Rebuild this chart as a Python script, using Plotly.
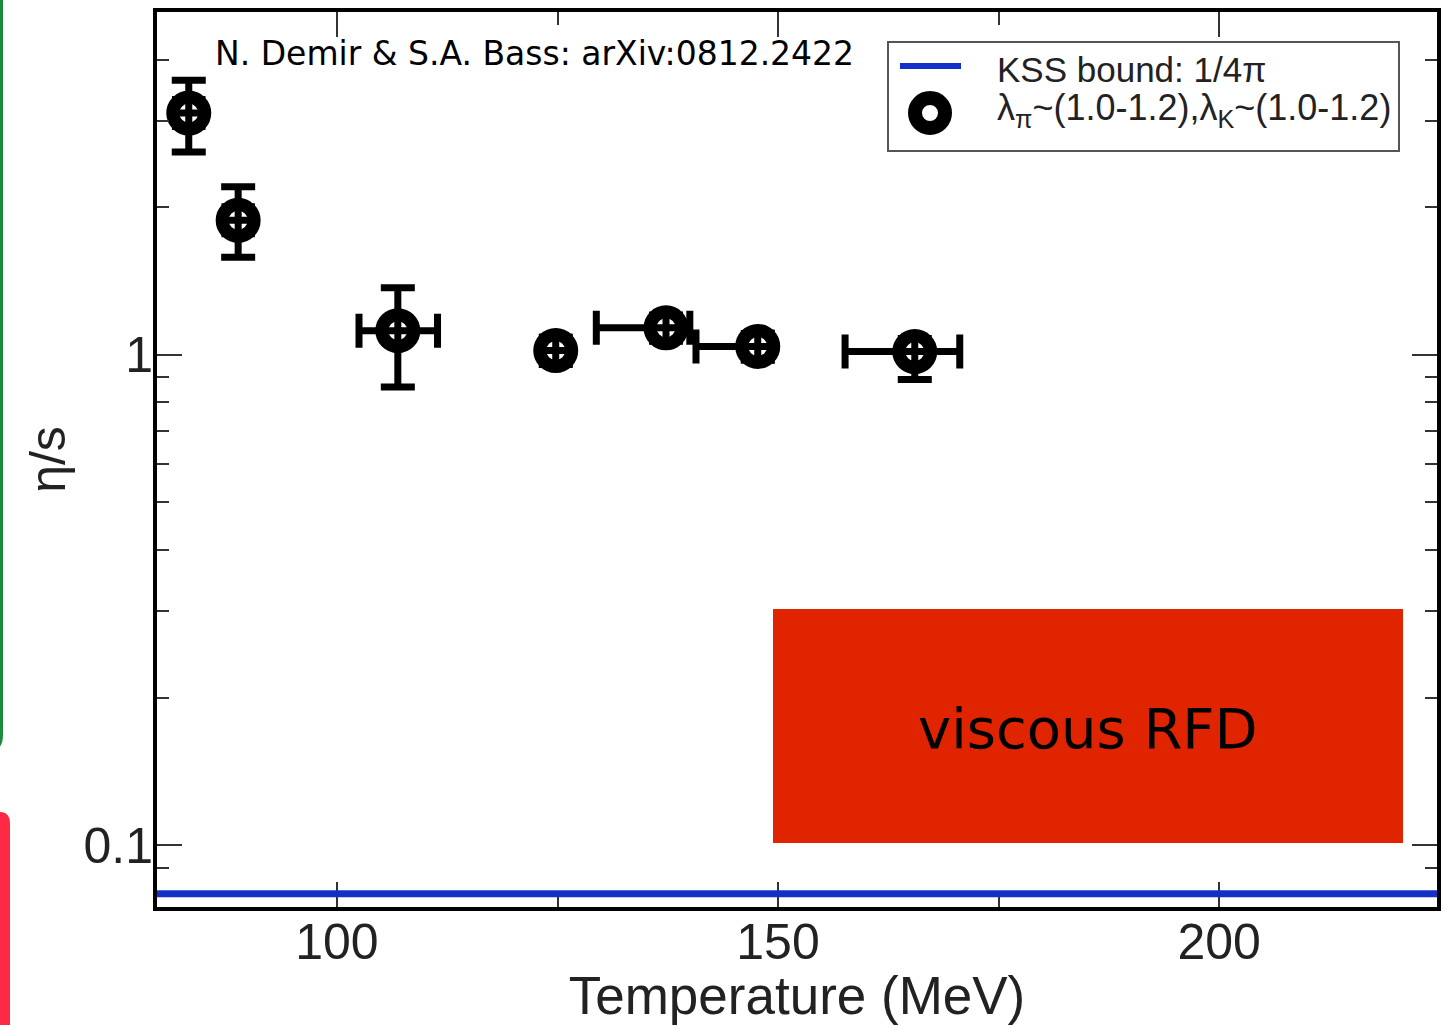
import numpy as np
import plotly.graph_objects as go

# eta/s versus temperature (N. Demir & S.A. Bass, arXiv:0812.2422)
temperature = [83.2, 88.8, 106.9, 124.8, 137.3, 147.7, 165.5]
eta_over_s = [3.11, 1.88, 1.12, 1.02, 1.135, 1.04, 1.015]
eta_err_plus = [0.52, 0.32, 0.25, 0.065, 0.07, 0.065, 0.065]
eta_err_minus = [0.52, 0.30, 0.26, 0.065, 0.07, 0.065, 0.125]
temp_err_plus = [1.5, 1.5, 4.5, 1.5, 2.7, 1.5, 5.1]
temp_err_minus = [1.5, 1.5, 4.4, 1.5, 7.9, 7.0, 7.9]

kss_bound = 1.0 / (4.0 * np.pi)

x_ticks = [100, 150, 200]
x_minor_ticks = [125, 175]
y_ticks = [0.1, 1]
y_tick_text = ["0.1", "1"]
y_minor_ticks = [0.08, 0.09, 0.2, 0.3, 0.4, 0.5, 0.6, 0.7, 0.8, 0.9, 2, 3, 4, 5]

x_range = [79.6, 224.7]
y_range = [np.log10(0.0748), np.log10(5.0)]

W, H = 1444, 1025
ML, MR, MT, MB = 157, 7, 12, 118
PW, PH = W - ML - MR, H - MT - MB


def px(X):
    """page pixel x -> paper x"""
    return (X - ML) / PW


def py(Y):
    """page pixel y -> paper y"""
    return (H - MB - Y) / PH


fig = go.Figure()

fig.add_trace(go.Scatter(
    x=temperature, y=eta_over_s, mode="markers",
    marker=dict(symbol="circle-open", size=32, color="black",
                line=dict(width=13, color="black")),
    error_y=dict(type="data", symmetric=False, array=eta_err_plus,
                 arrayminus=eta_err_minus, thickness=7, width=17, color="black"),
    error_x=dict(type="data", symmetric=False, array=temp_err_plus,
                 arrayminus=temp_err_minus, thickness=7, width=17, color="black"),
    showlegend=False, hoverinfo="skip",
))

shapes = []
annotations = []

# KSS bound line
shapes.append(dict(type="line", xref="x domain", yref="y", x0=0, x1=1,
                   y0=kss_bound, y1=kss_bound, layer="above",
                   line=dict(color="#1530c8", width=7)))

# legend box
shapes.append(dict(type="rect", xref="paper", yref="paper",
                   x0=px(888), x1=px(1399), y0=py(151), y1=py(42),
                   line=dict(color="#555555", width=2), fillcolor="white"))
shapes.append(dict(type="line", xref="paper", yref="paper",
                   x0=px(900), x1=px(961), y0=py(66), y1=py(66),
                   line=dict(color="#1530c8", width=6)))
shapes.append(dict(type="circle", xref="paper", yref="paper",
                   xsizemode="pixel", ysizemode="pixel",
                   xanchor=px(930), yanchor=py(113),
                   x0=-15, x1=15, y0=-15, y1=15,
                   line=dict(color="black", width=14)))
annotations.append(dict(text="KSS bound: 1/4π", xref="paper", yref="paper",
                        x=px(995), y=py(69), xanchor="left", yanchor="middle",
                        showarrow=False,
                        font=dict(family="Liberation Sans", size=35, color="#222")))
annotations.append(dict(text="λ<sub>π</sub>~(1.0-1.2),λ<sub>K</sub>~(1.0-1.2)",
                        xref="paper", yref="paper",
                        x=px(995), y=py(110), xanchor="left", yanchor="middle",
                        showarrow=False,
                        font=dict(family="Liberation Sans", size=36, color="#222")))

# citation
annotations.append(dict(text="N. Demir &amp; S.A. Bass: arXiv:0812.2422",
                        xref="paper", yref="paper",
                        x=px(213), y=py(54), xanchor="left", yanchor="middle",
                        showarrow=False,
                        font=dict(family="DejaVu Sans", size=33, color="black")))

# red label box
shapes.append(dict(type="rect", xref="paper", yref="paper",
                   x0=px(773), x1=px(1403), y0=py(843), y1=py(609),
                   line=dict(width=0), fillcolor="#e02400", layer="above"))
annotations.append(dict(text="viscous RFD", xref="paper", yref="paper",
                        x=px(1088), y=py(728), xanchor="center", yanchor="middle",
                        showarrow=False,
                        font=dict(family="DejaVu Sans", size=56, color="black")))

# slide edge decorations on the left
green_path = (f"M {px(1.5)} {py(-5)} L {px(1.5)} {py(735)} "
              f"Q {px(1.5)} {py(750)} {px(-12)} {py(752)}")
shapes.append(dict(type="path", xref="paper", yref="paper", path=green_path,
                   line=dict(color="#1f8a3c", width=3)))
red_path = (f"M {px(-10)} {py(1030)} L {px(-10)} {py(812)} L {px(0)} {py(812)} "
            f"Q {px(10)} {py(812)} {px(10)} {py(824)} L {px(10)} {py(1030)} Z")
shapes.append(dict(type="path", xref="paper", yref="paper", path=red_path,
                   line=dict(width=0), fillcolor="#ff2845"))

axis_common = dict(
    showline=True, linewidth=4, linecolor="black", mirror="ticks",
    ticks="inside", tickwidth=2, tickcolor="#333", showgrid=False, zeroline=False,
    tickfont=dict(family="Liberation Sans", size=50, color="#222"),
)

fig.update_layout(
    width=W, height=H,
    margin=dict(l=ML, r=MR, t=MT, b=MB, autoexpand=False),
    paper_bgcolor="white", plot_bgcolor="white",
    showlegend=False,
    shapes=shapes, annotations=annotations,
    xaxis=dict(
        **axis_common, range=x_range, tickvals=x_ticks, ticklen=25,
        ticklabelstandoff=-12,
        minor=dict(tickvals=x_minor_ticks, ticks="inside", ticklen=13,
                   tickwidth=2, tickcolor="#333"),
        title=dict(text="Temperature (MeV)", standoff=6,
                   font=dict(family="Liberation Sans", size=53, color="#222")),
    ),
    yaxis=dict(
        **axis_common, type="log", range=y_range, tickvals=y_ticks,
        ticktext=y_tick_text, ticklen=25, ticklabelstandoff=-10,
        minor=dict(tickvals=y_minor_ticks, ticks="inside", ticklen=12,
                   tickwidth=2, tickcolor="#333"),
        title=dict(text="η/s", standoff=3,
                   font=dict(family="Liberation Sans", size=50, color="#222")),
    ),
)

fig.write_html("out.html")
